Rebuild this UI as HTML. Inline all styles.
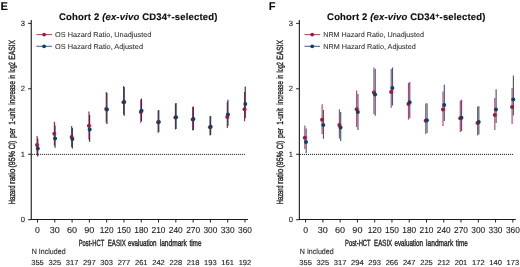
<!DOCTYPE html>
<html><head><meta charset="utf-8"><style>
html,body{margin:0;padding:0;background:#fff;}
svg{display:block;filter:blur(0.3px);text-rendering:geometricPrecision;font-family:"Liberation Sans",sans-serif;}
</style></head><body>
<svg width="520" height="267" viewBox="0 0 520 267">
<rect width="520" height="267" fill="#fff"/>
<text x="0.6" y="10.1" font-size="11.2" font-weight="bold" fill="#000">E</text>
<text x="59.0" y="19.9" font-size="9.5" font-weight="bold" fill="#111" stroke="#111" stroke-width="0.15" textLength="158.3" lengthAdjust="spacing">Cohort 2 <tspan font-style="italic">(ex-vivo</tspan> CD34<tspan font-size="7.2" dy="-2.2">+</tspan><tspan dy="2.2">-selected)</tspan></text>
<line x1="31.25" y1="20" x2="31.25" y2="220.00" stroke="#1a1a1a" stroke-width="1.1"/>
<line x1="30.75" y1="219.50" x2="247.98" y2="219.50" stroke="#1a1a1a" stroke-width="1.1"/>
<line x1="28.05" y1="219.70" x2="31.25" y2="219.70" stroke="#222" stroke-width="1"/>
<text x="25.0" y="222.10" font-size="7.6" text-anchor="end" fill="#222" stroke="#222" stroke-width="0.1">0</text>
<line x1="28.05" y1="154.25" x2="31.25" y2="154.25" stroke="#222" stroke-width="1"/>
<text x="25.0" y="156.65" font-size="7.6" text-anchor="end" fill="#222" stroke="#222" stroke-width="0.1">1</text>
<line x1="28.05" y1="88.80" x2="31.25" y2="88.80" stroke="#222" stroke-width="1"/>
<text x="25.0" y="91.20" font-size="7.6" text-anchor="end" fill="#222" stroke="#222" stroke-width="0.1">2</text>
<line x1="28.05" y1="23.35" x2="31.25" y2="23.35" stroke="#222" stroke-width="1"/>
<text x="25.0" y="25.75" font-size="7.6" text-anchor="end" fill="#222" stroke="#222" stroke-width="0.1">3</text>
<line x1="37.50" y1="219.50" x2="37.50" y2="222.50" stroke="#222" stroke-width="1"/>
<text x="37.50" y="232.7" font-size="8.7" text-anchor="middle" fill="#222" stroke="#222" stroke-width="0.1">0</text>
<text x="37.50" y="264.8" font-size="7.3" text-anchor="middle" fill="#222" stroke="#222" stroke-width="0.12" textLength="12.6" lengthAdjust="spacingAndGlyphs">355</text>
<line x1="54.79" y1="219.50" x2="54.79" y2="222.50" stroke="#222" stroke-width="1"/>
<text x="54.79" y="232.7" font-size="8.7" text-anchor="middle" fill="#222" stroke="#222" stroke-width="0.1" textLength="10.1" lengthAdjust="spacingAndGlyphs">30</text>
<text x="54.79" y="264.8" font-size="7.3" text-anchor="middle" fill="#222" stroke="#222" stroke-width="0.12" textLength="12.6" lengthAdjust="spacingAndGlyphs">325</text>
<line x1="72.08" y1="219.50" x2="72.08" y2="222.50" stroke="#222" stroke-width="1"/>
<text x="72.08" y="232.7" font-size="8.7" text-anchor="middle" fill="#222" stroke="#222" stroke-width="0.1" textLength="10.1" lengthAdjust="spacingAndGlyphs">60</text>
<text x="72.08" y="264.8" font-size="7.3" text-anchor="middle" fill="#222" stroke="#222" stroke-width="0.12" textLength="12.6" lengthAdjust="spacingAndGlyphs">317</text>
<line x1="89.37" y1="219.50" x2="89.37" y2="222.50" stroke="#222" stroke-width="1"/>
<text x="89.37" y="232.7" font-size="8.7" text-anchor="middle" fill="#222" stroke="#222" stroke-width="0.1" textLength="10.1" lengthAdjust="spacingAndGlyphs">90</text>
<text x="89.37" y="264.8" font-size="7.3" text-anchor="middle" fill="#222" stroke="#222" stroke-width="0.12" textLength="12.6" lengthAdjust="spacingAndGlyphs">297</text>
<line x1="106.66" y1="219.50" x2="106.66" y2="222.50" stroke="#222" stroke-width="1"/>
<text x="106.66" y="232.7" font-size="8.7" text-anchor="middle" fill="#222" stroke="#222" stroke-width="0.1" textLength="13.9" lengthAdjust="spacingAndGlyphs">120</text>
<text x="106.66" y="264.8" font-size="7.3" text-anchor="middle" fill="#222" stroke="#222" stroke-width="0.12" textLength="12.6" lengthAdjust="spacingAndGlyphs">303</text>
<line x1="123.95" y1="219.50" x2="123.95" y2="222.50" stroke="#222" stroke-width="1"/>
<text x="123.95" y="232.7" font-size="8.7" text-anchor="middle" fill="#222" stroke="#222" stroke-width="0.1" textLength="13.9" lengthAdjust="spacingAndGlyphs">150</text>
<text x="123.95" y="264.8" font-size="7.3" text-anchor="middle" fill="#222" stroke="#222" stroke-width="0.12" textLength="12.6" lengthAdjust="spacingAndGlyphs">277</text>
<line x1="141.24" y1="219.50" x2="141.24" y2="222.50" stroke="#222" stroke-width="1"/>
<text x="141.24" y="232.7" font-size="8.7" text-anchor="middle" fill="#222" stroke="#222" stroke-width="0.1" textLength="13.9" lengthAdjust="spacingAndGlyphs">180</text>
<text x="141.24" y="264.8" font-size="7.3" text-anchor="middle" fill="#222" stroke="#222" stroke-width="0.12" textLength="12.6" lengthAdjust="spacingAndGlyphs">261</text>
<line x1="158.53" y1="219.50" x2="158.53" y2="222.50" stroke="#222" stroke-width="1"/>
<text x="158.53" y="232.7" font-size="8.7" text-anchor="middle" fill="#222" stroke="#222" stroke-width="0.1" textLength="13.9" lengthAdjust="spacingAndGlyphs">210</text>
<text x="158.53" y="264.8" font-size="7.3" text-anchor="middle" fill="#222" stroke="#222" stroke-width="0.12" textLength="12.6" lengthAdjust="spacingAndGlyphs">242</text>
<line x1="175.82" y1="219.50" x2="175.82" y2="222.50" stroke="#222" stroke-width="1"/>
<text x="175.82" y="232.7" font-size="8.7" text-anchor="middle" fill="#222" stroke="#222" stroke-width="0.1" textLength="13.9" lengthAdjust="spacingAndGlyphs">240</text>
<text x="175.82" y="264.8" font-size="7.3" text-anchor="middle" fill="#222" stroke="#222" stroke-width="0.12" textLength="12.6" lengthAdjust="spacingAndGlyphs">228</text>
<line x1="193.11" y1="219.50" x2="193.11" y2="222.50" stroke="#222" stroke-width="1"/>
<text x="193.11" y="232.7" font-size="8.7" text-anchor="middle" fill="#222" stroke="#222" stroke-width="0.1" textLength="13.9" lengthAdjust="spacingAndGlyphs">270</text>
<text x="193.11" y="264.8" font-size="7.3" text-anchor="middle" fill="#222" stroke="#222" stroke-width="0.12" textLength="12.6" lengthAdjust="spacingAndGlyphs">218</text>
<line x1="210.40" y1="219.50" x2="210.40" y2="222.50" stroke="#222" stroke-width="1"/>
<text x="210.40" y="232.7" font-size="8.7" text-anchor="middle" fill="#222" stroke="#222" stroke-width="0.1" textLength="13.9" lengthAdjust="spacingAndGlyphs">300</text>
<text x="210.40" y="264.8" font-size="7.3" text-anchor="middle" fill="#222" stroke="#222" stroke-width="0.12" textLength="12.6" lengthAdjust="spacingAndGlyphs">193</text>
<line x1="227.69" y1="219.50" x2="227.69" y2="222.50" stroke="#222" stroke-width="1"/>
<text x="227.69" y="232.7" font-size="8.7" text-anchor="middle" fill="#222" stroke="#222" stroke-width="0.1" textLength="13.9" lengthAdjust="spacingAndGlyphs">330</text>
<text x="227.69" y="264.8" font-size="7.3" text-anchor="middle" fill="#222" stroke="#222" stroke-width="0.12" textLength="12.6" lengthAdjust="spacingAndGlyphs">161</text>
<line x1="244.98" y1="219.50" x2="244.98" y2="222.50" stroke="#222" stroke-width="1"/>
<text x="244.98" y="232.7" font-size="8.7" text-anchor="middle" fill="#222" stroke="#222" stroke-width="0.1" textLength="13.9" lengthAdjust="spacingAndGlyphs">360</text>
<text x="244.98" y="264.8" font-size="7.3" text-anchor="middle" fill="#222" stroke="#222" stroke-width="0.12" textLength="12.6" lengthAdjust="spacingAndGlyphs">192</text>
<line x1="31.85" y1="154.4" x2="245.48" y2="154.4" stroke="#111" stroke-width="1" stroke-dasharray="1 1"/>
<text x="78.70" y="245.8" font-size="9.0" fill="#222" stroke="#222" stroke-width="0.35" textLength="25.50" lengthAdjust="spacingAndGlyphs">Post-HCT</text>
<text x="107.70" y="245.8" font-size="9.0" fill="#222" stroke="#222" stroke-width="0.35" textLength="18.10" lengthAdjust="spacingAndGlyphs">EASIX</text>
<text x="128.00" y="245.8" font-size="9.0" fill="#222" stroke="#222" stroke-width="0.35" textLength="28.60" lengthAdjust="spacingAndGlyphs">evaluation</text>
<text x="159.70" y="245.8" font-size="9.0" fill="#222" stroke="#222" stroke-width="0.35" textLength="27.10" lengthAdjust="spacingAndGlyphs">landmark</text>
<text x="189.40" y="245.8" font-size="9.0" fill="#222" stroke="#222" stroke-width="0.35" textLength="12.10" lengthAdjust="spacingAndGlyphs">time</text>
<text transform="translate(14.90,204.30) rotate(-90)" x="0" y="0" font-size="9.0" fill="#222" stroke="#222" stroke-width="0.35" textLength="18.80" lengthAdjust="spacingAndGlyphs">Hazard</text>
<text transform="translate(14.90,183.90) rotate(-90)" x="0" y="0" font-size="9.0" fill="#222" stroke="#222" stroke-width="0.35" textLength="15.20" lengthAdjust="spacingAndGlyphs">ratio</text>
<text transform="translate(14.90,167.50) rotate(-90)" x="0" y="0" font-size="9.0" fill="#222" stroke="#222" stroke-width="0.35" textLength="16.50" lengthAdjust="spacingAndGlyphs">(95%</text>
<text transform="translate(14.90,149.30) rotate(-90)" x="0" y="0" font-size="9.0" fill="#222" stroke="#222" stroke-width="0.35" textLength="8.50" lengthAdjust="spacingAndGlyphs">CI)</text>
<text transform="translate(14.90,137.90) rotate(-90)" x="0" y="0" font-size="9.0" fill="#222" stroke="#222" stroke-width="0.35" textLength="9.90" lengthAdjust="spacingAndGlyphs">per</text>
<text transform="translate(14.90,124.70) rotate(-90)" x="0" y="0" font-size="9.0" fill="#222" stroke="#222" stroke-width="0.35" textLength="16.50" lengthAdjust="spacingAndGlyphs">1-unit</text>
<text transform="translate(14.90,104.70) rotate(-90)" x="0" y="0" font-size="9.0" fill="#222" stroke="#222" stroke-width="0.35" textLength="23.70" lengthAdjust="spacingAndGlyphs">increase</text>
<text transform="translate(14.90,78.60) rotate(-90)" x="0" y="0" font-size="9.0" fill="#222" stroke="#222" stroke-width="0.35" textLength="3.60" lengthAdjust="spacingAndGlyphs">in</text>
<text transform="translate(14.90,72.60) rotate(-90)" x="0" y="0" font-size="9.0" fill="#222" stroke="#222" stroke-width="0.35" textLength="10.50" lengthAdjust="spacingAndGlyphs">log2</text>
<text transform="translate(14.90,59.70) rotate(-90)" x="0" y="0" font-size="9.0" fill="#222" stroke="#222" stroke-width="0.35" textLength="19.60" lengthAdjust="spacingAndGlyphs">EASIX</text>
<text x="31.7" y="253.7" font-size="7.7" fill="#222" stroke="#222" stroke-width="0.1" textLength="33.9" lengthAdjust="spacingAndGlyphs">N Included</text>
<line x1="36.40" y1="34.6" x2="51.90" y2="34.6" stroke="#c8385c" stroke-width="1.05"/>
<circle cx="44.10" cy="34.6" r="1.9" fill="#a5153e"/>
<text x="55.1" y="37.10" font-size="7.1" fill="#333" stroke="#333" stroke-width="0.08" textLength="96.2" lengthAdjust="spacingAndGlyphs">OS Hazard Ratio, Unadjusted</text>
<line x1="36.40" y1="46.3" x2="51.90" y2="46.3" stroke="#44649a" stroke-width="1.05"/>
<circle cx="44.10" cy="46.3" r="1.9" fill="#0f4161"/>
<text x="55.1" y="48.80" font-size="7.1" fill="#333" stroke="#333" stroke-width="0.08" textLength="87.9" lengthAdjust="spacingAndGlyphs">OS Hazard Ratio, Adjusted</text>
<line x1="37.10" y1="136.1" x2="37.10" y2="155.5" stroke="#8e2a58" stroke-width="1.15"/>
<line x1="37.75" y1="138.5" x2="37.75" y2="156.6" stroke="#26324a" stroke-width="1.15"/>
<line x1="54.39" y1="121.8" x2="54.39" y2="145.5" stroke="#8e2a58" stroke-width="1.15"/>
<line x1="55.04" y1="125.5" x2="55.04" y2="147.7" stroke="#26324a" stroke-width="1.15"/>
<line x1="71.68" y1="126.1" x2="71.68" y2="147.0" stroke="#8e2a58" stroke-width="1.15"/>
<line x1="72.33" y1="128.0" x2="72.33" y2="148.4" stroke="#26324a" stroke-width="1.15"/>
<line x1="88.97" y1="111.6" x2="88.97" y2="139.5" stroke="#8e2a58" stroke-width="1.15"/>
<line x1="89.62" y1="115.0" x2="89.62" y2="141.8" stroke="#26324a" stroke-width="1.15"/>
<line x1="106.26" y1="91.9" x2="106.26" y2="122.5" stroke="#8e2a58" stroke-width="1.15"/>
<line x1="106.91" y1="93.0" x2="106.91" y2="124.0" stroke="#26324a" stroke-width="1.15"/>
<line x1="123.55" y1="86.1" x2="123.55" y2="114.5" stroke="#8e2a58" stroke-width="1.15"/>
<line x1="124.20" y1="87.0" x2="124.20" y2="115.8" stroke="#26324a" stroke-width="1.15"/>
<line x1="140.84" y1="99.5" x2="140.84" y2="122.8" stroke="#8e2a58" stroke-width="1.15"/>
<line x1="141.49" y1="98.6" x2="141.49" y2="121.0" stroke="#26324a" stroke-width="1.15"/>
<line x1="158.13" y1="110.5" x2="158.13" y2="132.7" stroke="#8e2a58" stroke-width="1.15"/>
<line x1="158.78" y1="110.1" x2="158.78" y2="132.0" stroke="#26324a" stroke-width="1.15"/>
<line x1="175.42" y1="103.5" x2="175.42" y2="129.6" stroke="#8e2a58" stroke-width="1.15"/>
<line x1="176.07" y1="102.9" x2="176.07" y2="129.0" stroke="#26324a" stroke-width="1.15"/>
<line x1="192.71" y1="107.0" x2="192.71" y2="130.6" stroke="#8e2a58" stroke-width="1.15"/>
<line x1="193.36" y1="106.6" x2="193.36" y2="130.0" stroke="#26324a" stroke-width="1.15"/>
<line x1="210.00" y1="116.2" x2="210.00" y2="135.4" stroke="#8e2a58" stroke-width="1.15"/>
<line x1="210.65" y1="115.9" x2="210.65" y2="135.0" stroke="#26324a" stroke-width="1.15"/>
<line x1="227.29" y1="102.0" x2="227.29" y2="128.0" stroke="#8e2a58" stroke-width="1.15"/>
<line x1="227.94" y1="99.7" x2="227.94" y2="126.0" stroke="#26324a" stroke-width="1.15"/>
<line x1="244.58" y1="92.0" x2="244.58" y2="121.3" stroke="#8e2a58" stroke-width="1.15"/>
<line x1="245.23" y1="86.5" x2="245.23" y2="118.0" stroke="#26324a" stroke-width="1.15"/>
<circle cx="37.05" cy="145.1" r="2.0" fill="#a5153e"/>
<circle cx="54.34" cy="133.7" r="2.0" fill="#a5153e"/>
<circle cx="71.63" cy="137.0" r="2.0" fill="#a5153e"/>
<circle cx="88.92" cy="125.8" r="2.0" fill="#a5153e"/>
<circle cx="106.21" cy="109.0" r="2.0" fill="#a5153e"/>
<circle cx="123.50" cy="102.3" r="2.0" fill="#a5153e"/>
<circle cx="140.79" cy="112.0" r="2.0" fill="#a5153e"/>
<circle cx="158.08" cy="122.3" r="2.0" fill="#a5153e"/>
<circle cx="175.37" cy="117.6" r="2.0" fill="#a5153e"/>
<circle cx="192.66" cy="119.4" r="2.0" fill="#a5153e"/>
<circle cx="209.95" cy="127.2" r="2.0" fill="#a5153e"/>
<circle cx="227.24" cy="117.0" r="2.0" fill="#a5153e"/>
<circle cx="244.53" cy="109.3" r="2.0" fill="#a5153e"/>
<circle cx="37.80" cy="148.4" r="2.0" fill="#0f4161"/>
<circle cx="55.09" cy="138.5" r="2.0" fill="#0f4161"/>
<circle cx="72.38" cy="139.0" r="2.0" fill="#0f4161"/>
<circle cx="89.67" cy="129.5" r="2.0" fill="#0f4161"/>
<circle cx="106.96" cy="109.4" r="2.0" fill="#0f4161"/>
<circle cx="124.25" cy="101.9" r="2.0" fill="#0f4161"/>
<circle cx="141.54" cy="110.8" r="2.0" fill="#0f4161"/>
<circle cx="158.83" cy="121.9" r="2.0" fill="#0f4161"/>
<circle cx="176.12" cy="117.2" r="2.0" fill="#0f4161"/>
<circle cx="193.41" cy="119.0" r="2.0" fill="#0f4161"/>
<circle cx="210.70" cy="126.8" r="2.0" fill="#0f4161"/>
<circle cx="227.99" cy="114.6" r="2.0" fill="#0f4161"/>
<circle cx="245.28" cy="103.9" r="2.0" fill="#0f4161"/>
<text x="268.7" y="10.1" font-size="11.2" font-weight="bold" fill="#000">F</text>
<text x="327.1" y="19.9" font-size="9.5" font-weight="bold" fill="#111" stroke="#111" stroke-width="0.15" textLength="158.3" lengthAdjust="spacing">Cohort 2 <tspan font-style="italic">(ex-vivo</tspan> CD34<tspan font-size="7.2" dy="-2.2">+</tspan><tspan dy="2.2">-selected)</tspan></text>
<line x1="299.35" y1="20" x2="299.35" y2="220.00" stroke="#1a1a1a" stroke-width="1.1"/>
<line x1="298.85" y1="219.50" x2="515.84" y2="219.50" stroke="#1a1a1a" stroke-width="1.1"/>
<line x1="296.15" y1="219.70" x2="299.35" y2="219.70" stroke="#222" stroke-width="1"/>
<text x="293.1" y="222.10" font-size="7.6" text-anchor="end" fill="#222" stroke="#222" stroke-width="0.1">0</text>
<line x1="296.15" y1="154.25" x2="299.35" y2="154.25" stroke="#222" stroke-width="1"/>
<text x="293.1" y="156.65" font-size="7.6" text-anchor="end" fill="#222" stroke="#222" stroke-width="0.1">1</text>
<line x1="296.15" y1="88.80" x2="299.35" y2="88.80" stroke="#222" stroke-width="1"/>
<text x="293.1" y="91.20" font-size="7.6" text-anchor="end" fill="#222" stroke="#222" stroke-width="0.1">2</text>
<line x1="296.15" y1="23.35" x2="299.35" y2="23.35" stroke="#222" stroke-width="1"/>
<text x="293.1" y="25.75" font-size="7.6" text-anchor="end" fill="#222" stroke="#222" stroke-width="0.1">3</text>
<line x1="305.60" y1="219.50" x2="305.60" y2="222.50" stroke="#222" stroke-width="1"/>
<text x="305.60" y="232.7" font-size="8.7" text-anchor="middle" fill="#222" stroke="#222" stroke-width="0.1">0</text>
<text x="305.60" y="264.8" font-size="7.3" text-anchor="middle" fill="#222" stroke="#222" stroke-width="0.12" textLength="12.6" lengthAdjust="spacingAndGlyphs">355</text>
<line x1="322.87" y1="219.50" x2="322.87" y2="222.50" stroke="#222" stroke-width="1"/>
<text x="322.87" y="232.7" font-size="8.7" text-anchor="middle" fill="#222" stroke="#222" stroke-width="0.1" textLength="10.1" lengthAdjust="spacingAndGlyphs">30</text>
<text x="322.87" y="264.8" font-size="7.3" text-anchor="middle" fill="#222" stroke="#222" stroke-width="0.12" textLength="12.6" lengthAdjust="spacingAndGlyphs">325</text>
<line x1="340.14" y1="219.50" x2="340.14" y2="222.50" stroke="#222" stroke-width="1"/>
<text x="340.14" y="232.7" font-size="8.7" text-anchor="middle" fill="#222" stroke="#222" stroke-width="0.1" textLength="10.1" lengthAdjust="spacingAndGlyphs">60</text>
<text x="340.14" y="264.8" font-size="7.3" text-anchor="middle" fill="#222" stroke="#222" stroke-width="0.12" textLength="12.6" lengthAdjust="spacingAndGlyphs">317</text>
<line x1="357.41" y1="219.50" x2="357.41" y2="222.50" stroke="#222" stroke-width="1"/>
<text x="357.41" y="232.7" font-size="8.7" text-anchor="middle" fill="#222" stroke="#222" stroke-width="0.1" textLength="10.1" lengthAdjust="spacingAndGlyphs">90</text>
<text x="357.41" y="264.8" font-size="7.3" text-anchor="middle" fill="#222" stroke="#222" stroke-width="0.12" textLength="12.6" lengthAdjust="spacingAndGlyphs">294</text>
<line x1="374.68" y1="219.50" x2="374.68" y2="222.50" stroke="#222" stroke-width="1"/>
<text x="374.68" y="232.7" font-size="8.7" text-anchor="middle" fill="#222" stroke="#222" stroke-width="0.1" textLength="13.9" lengthAdjust="spacingAndGlyphs">120</text>
<text x="374.68" y="264.8" font-size="7.3" text-anchor="middle" fill="#222" stroke="#222" stroke-width="0.12" textLength="12.6" lengthAdjust="spacingAndGlyphs">293</text>
<line x1="391.95" y1="219.50" x2="391.95" y2="222.50" stroke="#222" stroke-width="1"/>
<text x="391.95" y="232.7" font-size="8.7" text-anchor="middle" fill="#222" stroke="#222" stroke-width="0.1" textLength="13.9" lengthAdjust="spacingAndGlyphs">150</text>
<text x="391.95" y="264.8" font-size="7.3" text-anchor="middle" fill="#222" stroke="#222" stroke-width="0.12" textLength="12.6" lengthAdjust="spacingAndGlyphs">266</text>
<line x1="409.22" y1="219.50" x2="409.22" y2="222.50" stroke="#222" stroke-width="1"/>
<text x="409.22" y="232.7" font-size="8.7" text-anchor="middle" fill="#222" stroke="#222" stroke-width="0.1" textLength="13.9" lengthAdjust="spacingAndGlyphs">180</text>
<text x="409.22" y="264.8" font-size="7.3" text-anchor="middle" fill="#222" stroke="#222" stroke-width="0.12" textLength="12.6" lengthAdjust="spacingAndGlyphs">247</text>
<line x1="426.49" y1="219.50" x2="426.49" y2="222.50" stroke="#222" stroke-width="1"/>
<text x="426.49" y="232.7" font-size="8.7" text-anchor="middle" fill="#222" stroke="#222" stroke-width="0.1" textLength="13.9" lengthAdjust="spacingAndGlyphs">210</text>
<text x="426.49" y="264.8" font-size="7.3" text-anchor="middle" fill="#222" stroke="#222" stroke-width="0.12" textLength="12.6" lengthAdjust="spacingAndGlyphs">225</text>
<line x1="443.76" y1="219.50" x2="443.76" y2="222.50" stroke="#222" stroke-width="1"/>
<text x="443.76" y="232.7" font-size="8.7" text-anchor="middle" fill="#222" stroke="#222" stroke-width="0.1" textLength="13.9" lengthAdjust="spacingAndGlyphs">240</text>
<text x="443.76" y="264.8" font-size="7.3" text-anchor="middle" fill="#222" stroke="#222" stroke-width="0.12" textLength="12.6" lengthAdjust="spacingAndGlyphs">212</text>
<line x1="461.03" y1="219.50" x2="461.03" y2="222.50" stroke="#222" stroke-width="1"/>
<text x="461.03" y="232.7" font-size="8.7" text-anchor="middle" fill="#222" stroke="#222" stroke-width="0.1" textLength="13.9" lengthAdjust="spacingAndGlyphs">270</text>
<text x="461.03" y="264.8" font-size="7.3" text-anchor="middle" fill="#222" stroke="#222" stroke-width="0.12" textLength="12.6" lengthAdjust="spacingAndGlyphs">201</text>
<line x1="478.30" y1="219.50" x2="478.30" y2="222.50" stroke="#222" stroke-width="1"/>
<text x="478.30" y="232.7" font-size="8.7" text-anchor="middle" fill="#222" stroke="#222" stroke-width="0.1" textLength="13.9" lengthAdjust="spacingAndGlyphs">300</text>
<text x="478.30" y="264.8" font-size="7.3" text-anchor="middle" fill="#222" stroke="#222" stroke-width="0.12" textLength="12.6" lengthAdjust="spacingAndGlyphs">172</text>
<line x1="495.57" y1="219.50" x2="495.57" y2="222.50" stroke="#222" stroke-width="1"/>
<text x="495.57" y="232.7" font-size="8.7" text-anchor="middle" fill="#222" stroke="#222" stroke-width="0.1" textLength="13.9" lengthAdjust="spacingAndGlyphs">330</text>
<text x="495.57" y="264.8" font-size="7.3" text-anchor="middle" fill="#222" stroke="#222" stroke-width="0.12" textLength="12.6" lengthAdjust="spacingAndGlyphs">140</text>
<line x1="512.84" y1="219.50" x2="512.84" y2="222.50" stroke="#222" stroke-width="1"/>
<text x="512.84" y="232.7" font-size="8.7" text-anchor="middle" fill="#222" stroke="#222" stroke-width="0.1" textLength="13.9" lengthAdjust="spacingAndGlyphs">360</text>
<text x="512.84" y="264.8" font-size="7.3" text-anchor="middle" fill="#222" stroke="#222" stroke-width="0.12" textLength="12.6" lengthAdjust="spacingAndGlyphs">173</text>
<line x1="299.95" y1="154.4" x2="513.34" y2="154.4" stroke="#111" stroke-width="1" stroke-dasharray="1 1"/>
<text x="345.10" y="245.8" font-size="9.0" fill="#222" stroke="#222" stroke-width="0.35" textLength="25.50" lengthAdjust="spacingAndGlyphs">Post-HCT</text>
<text x="374.10" y="245.8" font-size="9.0" fill="#222" stroke="#222" stroke-width="0.35" textLength="18.10" lengthAdjust="spacingAndGlyphs">EASIX</text>
<text x="394.40" y="245.8" font-size="9.0" fill="#222" stroke="#222" stroke-width="0.35" textLength="28.60" lengthAdjust="spacingAndGlyphs">evaluation</text>
<text x="426.10" y="245.8" font-size="9.0" fill="#222" stroke="#222" stroke-width="0.35" textLength="27.10" lengthAdjust="spacingAndGlyphs">landmark</text>
<text x="455.80" y="245.8" font-size="9.0" fill="#222" stroke="#222" stroke-width="0.35" textLength="12.10" lengthAdjust="spacingAndGlyphs">time</text>
<text transform="translate(283.00,204.30) rotate(-90)" x="0" y="0" font-size="9.0" fill="#222" stroke="#222" stroke-width="0.35" textLength="18.80" lengthAdjust="spacingAndGlyphs">Hazard</text>
<text transform="translate(283.00,183.90) rotate(-90)" x="0" y="0" font-size="9.0" fill="#222" stroke="#222" stroke-width="0.35" textLength="15.20" lengthAdjust="spacingAndGlyphs">ratio</text>
<text transform="translate(283.00,167.50) rotate(-90)" x="0" y="0" font-size="9.0" fill="#222" stroke="#222" stroke-width="0.35" textLength="16.50" lengthAdjust="spacingAndGlyphs">(95%</text>
<text transform="translate(283.00,149.30) rotate(-90)" x="0" y="0" font-size="9.0" fill="#222" stroke="#222" stroke-width="0.35" textLength="8.50" lengthAdjust="spacingAndGlyphs">CI)</text>
<text transform="translate(283.00,137.90) rotate(-90)" x="0" y="0" font-size="9.0" fill="#222" stroke="#222" stroke-width="0.35" textLength="9.90" lengthAdjust="spacingAndGlyphs">per</text>
<text transform="translate(283.00,124.70) rotate(-90)" x="0" y="0" font-size="9.0" fill="#222" stroke="#222" stroke-width="0.35" textLength="16.50" lengthAdjust="spacingAndGlyphs">1-unit</text>
<text transform="translate(283.00,104.70) rotate(-90)" x="0" y="0" font-size="9.0" fill="#222" stroke="#222" stroke-width="0.35" textLength="23.70" lengthAdjust="spacingAndGlyphs">increase</text>
<text transform="translate(283.00,78.60) rotate(-90)" x="0" y="0" font-size="9.0" fill="#222" stroke="#222" stroke-width="0.35" textLength="3.60" lengthAdjust="spacingAndGlyphs">in</text>
<text transform="translate(283.00,72.60) rotate(-90)" x="0" y="0" font-size="9.0" fill="#222" stroke="#222" stroke-width="0.35" textLength="10.50" lengthAdjust="spacingAndGlyphs">log2</text>
<text transform="translate(283.00,59.70) rotate(-90)" x="0" y="0" font-size="9.0" fill="#222" stroke="#222" stroke-width="0.35" textLength="19.60" lengthAdjust="spacingAndGlyphs">EASIX</text>
<text x="299.8" y="253.7" font-size="7.7" fill="#222" stroke="#222" stroke-width="0.1" textLength="33.9" lengthAdjust="spacingAndGlyphs">N Included</text>
<line x1="304.50" y1="34.6" x2="320.00" y2="34.6" stroke="#c8385c" stroke-width="1.05"/>
<circle cx="312.20" cy="34.6" r="1.9" fill="#a5153e"/>
<text x="323.2" y="37.10" font-size="7.1" fill="#333" stroke="#333" stroke-width="0.08" textLength="100.7" lengthAdjust="spacingAndGlyphs">NRM Hazard Ratio, Unadjusted</text>
<line x1="304.50" y1="46.3" x2="320.00" y2="46.3" stroke="#44649a" stroke-width="1.05"/>
<circle cx="312.20" cy="46.3" r="1.9" fill="#0f4161"/>
<text x="323.2" y="48.80" font-size="7.1" fill="#333" stroke="#333" stroke-width="0.08" textLength="92.6" lengthAdjust="spacingAndGlyphs">NRM Hazard Ratio, Adjusted</text>
<line x1="304.85" y1="125.4" x2="304.85" y2="149.0" stroke="#a24a78" stroke-width="1.15"/>
<line x1="306.15" y1="128.5" x2="306.15" y2="153.2" stroke="#4a5872" stroke-width="1.15"/>
<line x1="322.12" y1="104.2" x2="322.12" y2="134.0" stroke="#a24a78" stroke-width="1.15"/>
<line x1="323.42" y1="110.0" x2="323.42" y2="138.8" stroke="#4a5872" stroke-width="1.15"/>
<line x1="339.39" y1="109.3" x2="339.39" y2="138.5" stroke="#a24a78" stroke-width="1.15"/>
<line x1="340.69" y1="112.0" x2="340.69" y2="141.0" stroke="#4a5872" stroke-width="1.15"/>
<line x1="356.66" y1="90.5" x2="356.66" y2="127.0" stroke="#a24a78" stroke-width="1.15"/>
<line x1="357.96" y1="94.0" x2="357.96" y2="130.0" stroke="#4a5872" stroke-width="1.15"/>
<line x1="373.93" y1="67.5" x2="373.93" y2="114.0" stroke="#a24a78" stroke-width="1.15"/>
<line x1="375.23" y1="69.0" x2="375.23" y2="115.8" stroke="#4a5872" stroke-width="1.15"/>
<line x1="391.20" y1="69.0" x2="391.20" y2="107.8" stroke="#a24a78" stroke-width="1.15"/>
<line x1="392.50" y1="67.5" x2="392.50" y2="105.5" stroke="#4a5872" stroke-width="1.15"/>
<line x1="408.47" y1="83.0" x2="408.47" y2="119.6" stroke="#a24a78" stroke-width="1.15"/>
<line x1="409.77" y1="82.0" x2="409.77" y2="118.0" stroke="#4a5872" stroke-width="1.15"/>
<line x1="425.74" y1="103.5" x2="425.74" y2="134.2" stroke="#a24a78" stroke-width="1.15"/>
<line x1="427.04" y1="103.2" x2="427.04" y2="133.0" stroke="#4a5872" stroke-width="1.15"/>
<line x1="443.01" y1="91.5" x2="443.01" y2="126.0" stroke="#a24a78" stroke-width="1.15"/>
<line x1="444.31" y1="84.8" x2="444.31" y2="121.0" stroke="#4a5872" stroke-width="1.15"/>
<line x1="460.28" y1="100.5" x2="460.28" y2="131.9" stroke="#a24a78" stroke-width="1.15"/>
<line x1="461.58" y1="99.8" x2="461.58" y2="131.0" stroke="#4a5872" stroke-width="1.15"/>
<line x1="477.55" y1="106.5" x2="477.55" y2="135.5" stroke="#a24a78" stroke-width="1.15"/>
<line x1="478.85" y1="106.2" x2="478.85" y2="134.5" stroke="#4a5872" stroke-width="1.15"/>
<line x1="494.82" y1="98.0" x2="494.82" y2="130.0" stroke="#a24a78" stroke-width="1.15"/>
<line x1="496.12" y1="89.3" x2="496.12" y2="122.9" stroke="#4a5872" stroke-width="1.15"/>
<line x1="512.09" y1="88.0" x2="512.09" y2="124.0" stroke="#a24a78" stroke-width="1.15"/>
<line x1="513.39" y1="75.5" x2="513.39" y2="115.5" stroke="#4a5872" stroke-width="1.15"/>
<circle cx="304.80" cy="137.8" r="2.0" fill="#a5153e"/>
<circle cx="322.07" cy="119.7" r="2.0" fill="#a5153e"/>
<circle cx="339.34" cy="125.0" r="2.0" fill="#a5153e"/>
<circle cx="356.61" cy="109.2" r="2.0" fill="#a5153e"/>
<circle cx="373.88" cy="92.5" r="2.0" fill="#a5153e"/>
<circle cx="391.15" cy="92.1" r="2.0" fill="#a5153e"/>
<circle cx="408.42" cy="104.0" r="2.0" fill="#a5153e"/>
<circle cx="425.69" cy="120.8" r="2.0" fill="#a5153e"/>
<circle cx="442.96" cy="109.5" r="2.0" fill="#a5153e"/>
<circle cx="460.23" cy="118.2" r="2.0" fill="#a5153e"/>
<circle cx="477.50" cy="123.0" r="2.0" fill="#a5153e"/>
<circle cx="494.77" cy="115.0" r="2.0" fill="#a5153e"/>
<circle cx="512.04" cy="107.0" r="2.0" fill="#a5153e"/>
<circle cx="306.00" cy="142.0" r="2.0" fill="#0f4161"/>
<circle cx="323.27" cy="125.0" r="2.0" fill="#0f4161"/>
<circle cx="340.54" cy="127.5" r="2.0" fill="#0f4161"/>
<circle cx="357.81" cy="112.0" r="2.0" fill="#0f4161"/>
<circle cx="375.08" cy="94.5" r="2.0" fill="#0f4161"/>
<circle cx="392.35" cy="88.1" r="2.0" fill="#0f4161"/>
<circle cx="409.62" cy="102.3" r="2.0" fill="#0f4161"/>
<circle cx="426.89" cy="120.2" r="2.0" fill="#0f4161"/>
<circle cx="444.16" cy="105.0" r="2.0" fill="#0f4161"/>
<circle cx="461.43" cy="117.8" r="2.0" fill="#0f4161"/>
<circle cx="478.70" cy="122.0" r="2.0" fill="#0f4161"/>
<circle cx="495.97" cy="109.5" r="2.0" fill="#0f4161"/>
<circle cx="513.24" cy="99.4" r="2.0" fill="#0f4161"/>
</svg>
</body></html>
